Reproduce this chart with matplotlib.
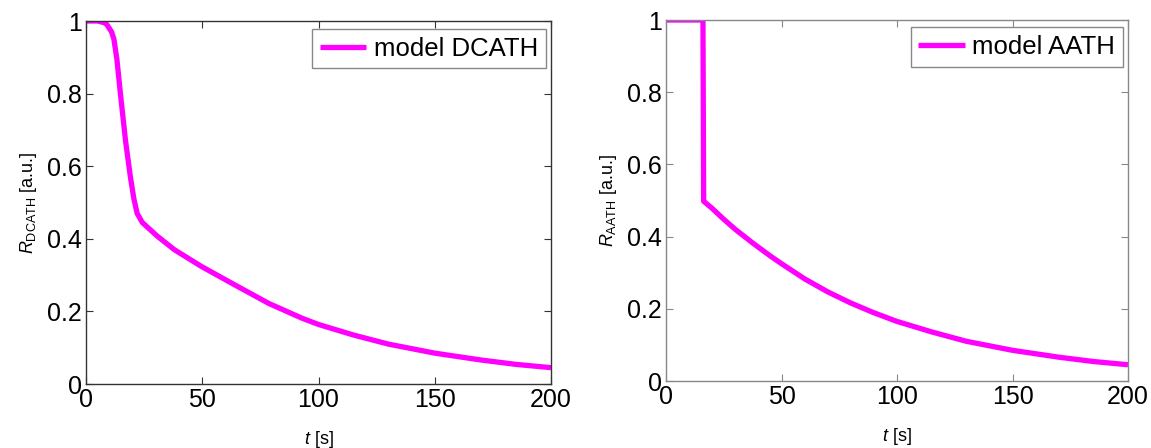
import numpy as np
import matplotlib
matplotlib.use("Agg")
import matplotlib.pyplot as plt

plt.rcParams['font.family'] = ['Liberation Sans', 'DejaVu Sans']
plt.rcParams['mathtext.fontset'] = 'custom'
plt.rcParams['mathtext.rm'] = 'Liberation Sans'
plt.rcParams['mathtext.it'] = 'Liberation Sans:italic'

# model DCATH curve
t_dcath = [0, 5, 8, 9, 11, 12, 13.3, 14.8, 17, 19.1, 20.6, 22, 24.2, 30.7, 38,
           49.6, 64, 78.6, 93, 100, 115, 130, 150, 170, 185, 200]
r_dcath = [1, 1, 0.995, 0.99, 0.97, 0.95, 0.894, 0.80, 0.67, 0.57, 0.51, 0.47,
           0.445, 0.407, 0.37, 0.324, 0.273, 0.222, 0.181, 0.164, 0.135, 0.11,
           0.085, 0.066, 0.054, 0.045]

# model AATH curve
t_aath = [0, 16, 16.3, 20, 25, 30, 38, 45, 50, 60, 70, 80, 90,
          100, 115, 130, 150, 170, 185, 200]
r_aath = [1, 1, 0.498, 0.478, 0.448, 0.42, 0.38, 0.347, 0.325, 0.283, 0.247,
          0.216, 0.189, 0.165, 0.136, 0.11, 0.085, 0.066, 0.054, 0.045]

xticks = [0, 50, 100, 150, 200]
yticks = [0, 0.2, 0.4, 0.6, 0.8, 1]
yticklabels = ["0", "0.2", "0.4", "0.6", "0.8", "1"]

fig = plt.figure(figsize=(11.51, 4.48), dpi=100)
W, H = 1151, 448
ax1 = fig.add_axes([86 / W, 1 - 384 / H, (551 - 86) / W, (384 - 21) / H])
ax2 = fig.add_axes([666 / W, 1 - 381 / H, (1128 - 666) / W, (381 - 20) / H])

panels = [
    (ax1, t_dcath, r_dcath, "model DCATH", r"$R_{\mathrm{DCATH}}$ [a.u.]",
     "#333333", (0.989, 0.978)),
    (ax2, t_aath, r_aath, "model AATH", r"$R_{\mathrm{AATH}}$ [a.u.]",
     "#888888", (0.989, 0.98)),
]

for ax, t, r, lab, ylab, sc, anchor in panels:
    ax.plot(t, r, color="#ff00ff", lw=3.8, label=lab, solid_capstyle="butt")
    ax.set_xlim(0, 200)
    ax.set_ylim(0, 1)
    ax.set_xticks(xticks)
    ax.set_yticks(yticks)
    ax.set_yticklabels(yticklabels)
    ax.tick_params(direction="in", top=True, right=True, labelsize=18,
                   length=5, color=sc, pad=3)
    for s in ax.spines.values():
        s.set_color(sc)
        s.set_linewidth(1.0)
    ax.set_xlabel(r"$t$ [s]", fontsize=13, labelpad=12)
    ax.set_ylabel(ylab, fontsize=13, labelpad=6)
    leg = ax.legend(loc="upper right", fontsize=18.5, fancybox=False,
                    framealpha=1, edgecolor="#888888", handlelength=1.8,
                    handletextpad=0.3, borderpad=0.3, borderaxespad=0,
                    bbox_to_anchor=anchor)
    leg.get_frame().set_linewidth(1.0)

fig.savefig("out.png", dpi=100)
